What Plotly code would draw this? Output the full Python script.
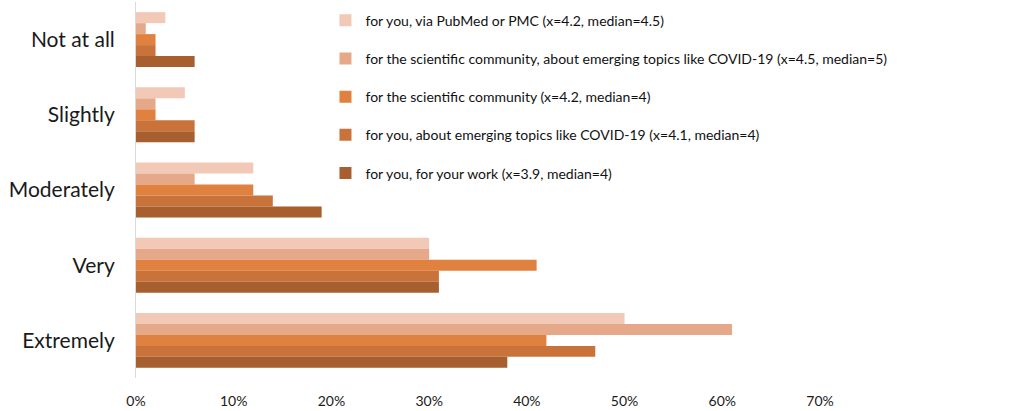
import plotly.graph_objects as go

categories = ["Not at all", "Slightly", "Moderately", "Very", "Extremely"]

series_names = [
    "for you, via PubMed or PMC (x=4.2, median=4.5)",
    "for the scientific community, about emerging topics like COVID-19 (x=4.5, median=5)",
    "for the scientific community (x=4.2, median=4)",
    "for you, about emerging topics like COVID-19 (x=4.1, median=4)",
    "for you, for your work (x=3.9, median=4)",
]

pubmed_pmc = [0.03, 0.05, 0.12, 0.30, 0.50]
community_emerging = [0.01, 0.02, 0.06, 0.30, 0.61]
community = [0.02, 0.02, 0.12, 0.41, 0.42]
you_emerging = [0.02, 0.06, 0.14, 0.31, 0.47]
you_work = [0.06, 0.06, 0.19, 0.31, 0.38]

series_values = [pubmed_pmc, community_emerging, community, you_emerging, you_work]
colors = ["#F1C9B6", "#E5A98A", "#E0813F", "#C9723A", "#A85F2F"]

x_ticks = [0, 0.1, 0.2, 0.3, 0.4, 0.5, 0.6, 0.7]
x_tick_labels = ["0%", "10%", "20%", "30%", "40%", "50%", "60%", "70%"]

font_family = "Lato, 'Open Sans', sans-serif"

fig = go.Figure()
for i, (name, vals, col) in enumerate(zip(series_names, series_values, colors)):
    fig.add_trace(go.Bar(
        y=categories, x=vals, name=name, orientation="h",
        marker=dict(color=col, line=dict(width=0)),
        legendgroup=f"g{i}",
    ))

fig.update_layout(
    width=1034, height=411,
    margin=dict(l=136, r=214, t=2, b=33),
    paper_bgcolor="white", plot_bgcolor="white",
    barmode="group", bargap=0.27, bargroupgap=0,
    font=dict(family=font_family, color="#1a1a1a"),
    showlegend=True,
    legend=dict(
        x=0.277, y=0.993, xanchor="left", yanchor="top",
        traceorder="grouped", tracegroupgap=17,
        font=dict(size=14, family=font_family, color="#111111"),
        bgcolor="rgba(0,0,0,0)", itemwidth=30,
    ),
    xaxis=dict(
        range=[0, 0.7], tickvals=x_ticks, ticktext=x_tick_labels,
        showgrid=False, zeroline=False, showline=False,
        ticks="outside", ticklen=10, tickcolor="rgba(0,0,0,0)",
        tickfont=dict(size=14, family=font_family, color="#1a1a1a"),
    ),
    yaxis=dict(
        autorange="reversed", showgrid=False, zeroline=False,
        showline=True, linecolor="#d9d9d9", linewidth=1,
        ticks="outside", ticklen=16, tickcolor="rgba(0,0,0,0)",
        tickfont=dict(size=21, family=font_family, color="#1a1a1a"),
    ),
)

fig.write_html("out.html")
